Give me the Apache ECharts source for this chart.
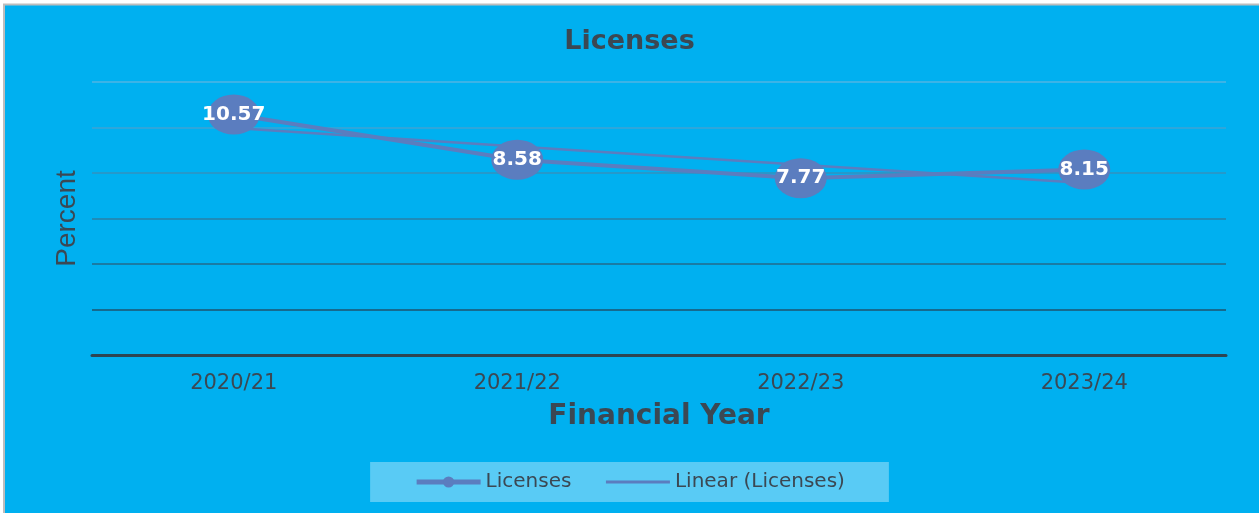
<!DOCTYPE html>
<html>
<head>
<meta charset="utf-8">
<script src="https://cdn.jsdelivr.net/npm/echarts@6/dist/echarts.min.js"></script>
<style>
  html, body { margin: 0; padding: 0; background: #fff; }
  #chart { width: 1259px; height: 513px; }
</style>
</head>
<body>
<div id="chart"></div>
<script>
  // data
  var years = ['2020/21', '2021/22', '2022/23', '2023/24'];
  var licenses = [10.57, 8.58, 7.77, 8.15];
  var linearLicenses = [9.98, 9.17, 8.36, 7.56];

  var blue = '#5b7dbf';
  var ink = '#3b4853';

  var chart = echarts.init(document.getElementById('chart'));
  chart.setOption({
    backgroundColor: '#00b0f0',
    animation: false,
    graphic: [
      { type: 'rect', shape: { x: 0, y: 0, width: 1259, height: 4 }, style: { fill: '#fff' } },
      { type: 'rect', shape: { x: 0, y: 0, width: 3, height: 513 }, style: { fill: '#fff' } },
      { type: 'line', shape: { x1: 3, y1: 4.5, x2: 1259, y2: 4.5 }, style: { stroke: '#bdbdbd', lineWidth: 2 } },
      { type: 'line', shape: { x1: 4, y1: 4, x2: 4, y2: 513 }, style: { stroke: '#bdbdbd', lineWidth: 2 } }
    ],
    title: {
      text: 'Licenses',
      left: 'center',
      top: 23,
      textStyle: { fontFamily: 'DejaVu Sans', fontSize: 27, fontWeight: 'bold', color: ink }
    },
    legend: {
      bottom: 11,
      left: 'center',
      itemWidth: 64,
      itemHeight: 14,
      itemGap: 33,
      padding: [10, 44, 10, 44],
      backgroundColor: 'rgba(255,255,255,0.35)',
      textStyle: { fontFamily: 'DejaVu Sans', fontSize: 20, color: ink },
      data: [
        { name: 'Licenses', lineStyle: { width: 5 } },
        { name: 'Linear (Licenses)', lineStyle: { width: 3 }, itemStyle: { opacity: 0 } }
      ]
    },
    grid: { left: 92, right: 33, top: 82, bottom: 158 },
    xAxis: {
      type: 'category',
      data: years,
      boundaryGap: true,
      axisTick: { show: false },
      axisLine: { lineStyle: { color: '#2e4552', width: 3 } },
      axisLabel: { margin: 18, fontFamily: 'DejaVu Sans', fontSize: 21, color: ink },
      name: 'Financial Year',
      nameLocation: 'middle',
      nameGap: 48,
      nameTextStyle: { fontFamily: 'DejaVu Sans', fontSize: 28, fontWeight: 'bold', color: ink }
    },
    yAxis: {
      type: 'value',
      min: 0,
      max: 12,
      interval: 2,
      axisLabel: { show: false },
      axisLine: { show: false },
      axisTick: { show: false },
      splitLine: {
        lineStyle: {
          width: 2,
          color: ['#2e4552', '#166a8e', '#1a7ba4', '#1f8bb8', '#2599cb', '#2ea6db', '#3cb3e6']
        }
      },
      name: 'Percent',
      nameLocation: 'middle',
      nameGap: 11,
      nameTextStyle: { fontFamily: 'Liberation Sans', fontSize: 28, color: ink }
    },
    series: [
      {
        name: 'Linear (Licenses)',
        type: 'line',
        data: linearLicenses,
        symbol: 'none',
        lineStyle: { color: blue, width: 2.5 },
        itemStyle: { color: blue },
        z: 2
      },
      {
        name: 'Licenses',
        type: 'line',
        data: licenses,
        symbol: 'circle',
        symbolSize: [52, 40],
        lineStyle: { color: blue, width: 4 },
        itemStyle: { color: blue },
        label: {
          show: true,
          position: 'inside',
          fontFamily: 'DejaVu Sans',
          fontSize: 20,
          fontWeight: 'bold',
          color: '#fff'
        },
        z: 3
      }
    ]
  });
</script>
</body>
</html>
